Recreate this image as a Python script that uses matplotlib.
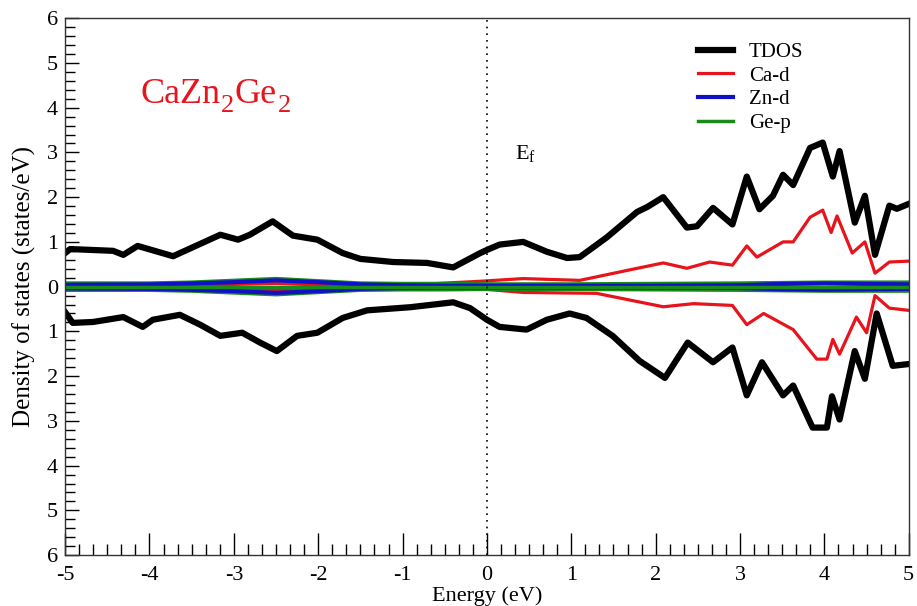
import matplotlib
matplotlib.use("Agg")
import matplotlib.pyplot as plt
from matplotlib.ticker import MultipleLocator, FuncFormatter, AutoMinorLocator

plt.rcParams['font.family'] = ['Liberation Serif', 'DejaVu Serif']
plt.rcParams['mathtext.fontset'] = 'custom'
plt.rcParams['mathtext.rm'] = 'Liberation Serif'
plt.rcParams['mathtext.it'] = 'Liberation Serif:italic'

# ---- data ----
tdos_up_e = [-5.0, -4.94, -4.43, -4.31, -4.14, -3.72, -3.16, -2.95, -2.81, -2.54, -2.30, -2.01,
             -1.71, -1.50, -1.11, -0.71, -0.40, -0.08, 0.0, 0.15, 0.43, 0.71, 0.95, 1.10, 1.42,
             1.78, 1.90, 2.09, 2.37, 2.49, 2.68, 2.91, 3.08, 3.23, 3.39, 3.51, 3.63, 3.83, 3.98,
             4.10, 4.18, 4.36, 4.48, 4.60, 4.77, 4.86, 5.0]
tdos_up = [0.75, 0.84, 0.80, 0.71, 0.91, 0.68, 1.16, 1.05, 1.16, 1.46, 1.14, 1.05,
           0.75, 0.62, 0.55, 0.53, 0.43, 0.75, 0.82, 0.94, 1.00, 0.78, 0.64, 0.66, 1.10,
           1.67, 1.78, 2.00, 1.32, 1.35, 1.76, 1.39, 2.46, 1.73, 2.03, 2.50, 2.27, 3.10, 3.22,
           2.46, 3.03, 1.43, 2.03, 0.71, 1.81, 1.74, 1.85]

tdos_dn_e = [-5.0, -4.91, -4.67, -4.31, -4.08, -3.96, -3.64, -3.40, -3.16, -2.90, -2.69, -2.49,
             -2.25, -2.01, -1.71, -1.42, -0.91, -0.40, -0.20, 0.0, 0.15, 0.47, 0.71, 0.98, 1.18,
             1.49, 1.81, 2.11, 2.38, 2.68, 2.91, 3.08, 3.26, 3.51, 3.63, 3.86, 4.03, 4.09, 4.18,
             4.36, 4.48, 4.62, 4.81, 5.0]
tdos_dn = [0.57, 0.81, 0.79, 0.68, 0.90, 0.74, 0.63, 0.85, 1.10, 1.03, 1.25, 1.44,
           1.10, 1.03, 0.70, 0.53, 0.46, 0.35, 0.48, 0.74, 0.90, 0.96, 0.74, 0.60, 0.70,
           1.10, 1.66, 2.04, 1.25, 1.69, 1.36, 2.43, 1.69, 2.43, 2.21, 3.15, 3.15, 2.45, 2.97,
           1.44, 2.06, 0.60, 1.77, 1.73]

cad_up_e = [-5.0, -4.0, -3.0, -2.5, -2.0, -1.0, -0.08, 0.43, 1.10, 1.68, 2.09, 2.37, 2.64,
            2.91, 3.08, 3.20, 3.51, 3.63, 3.83, 3.98, 4.08, 4.15, 4.33, 4.48, 4.60, 4.77, 5.0]
cad_up = [0.02, 0.03, 0.05, 0.07, 0.04, 0.03, 0.12, 0.18, 0.14, 0.37, 0.53, 0.41, 0.55,
          0.48, 0.91, 0.66, 1.00, 1.00, 1.55, 1.71, 1.21, 1.58, 0.75, 1.00, 0.30, 0.55, 0.57]

cad_dn_e = [-5.0, -4.0, -3.0, -2.5, -2.0, -1.0, -0.08, 0.43, 1.30, 2.09, 2.45, 2.91, 3.08,
            3.28, 3.63, 3.91, 4.03, 4.10, 4.18, 4.38, 4.50, 4.60, 4.77, 5.0]
cad_dn = [0.02, 0.03, 0.05, 0.07, 0.04, 0.03, 0.05, 0.13, 0.15, 0.45, 0.38, 0.42, 0.85,
          0.60, 0.96, 1.62, 1.62, 1.18, 1.51, 0.68, 1.03, 0.20, 0.48, 0.53]

pdos_e = [-5.0, -4.0, -3.5, -3.0, -2.5, -2.0, -1.5, -1.0, -0.5, 0.0, 1.0, 2.0, 3.0, 3.5, 4.0, 4.5, 5.0]
znd = [0.04, 0.05, 0.07, 0.10, 0.14, 0.10, 0.05, 0.03, 0.02, 0.02, 0.02, 0.02, 0.03, 0.06, 0.07, 0.06, 0.05]
gep = [0.08, 0.08, 0.10, 0.14, 0.18, 0.13, 0.08, 0.07, 0.07, 0.06, 0.06, 0.07, 0.08, 0.09, 0.10, 0.10, 0.10]

labels = ['TDOS', 'Ca-d', 'Zn-d', 'Ge-p']
colors = ['black', '#e8141c', '#1010c8', '#1a8a1a']

fig = plt.figure(figsize=(9.17, 6.06), dpi=100)
ax = fig.add_axes([0.071, 0.084, 0.920, 0.886])

ax.plot(tdos_up_e, tdos_up, color=colors[0], lw=4.5, label=labels[0], solid_joinstyle='round')
ax.plot(tdos_dn_e, [-v for v in tdos_dn], color=colors[0], lw=4.5, solid_joinstyle='round')
ax.plot(cad_up_e, cad_up, color=colors[1], lw=2.3, label=labels[1])
ax.plot(cad_dn_e, [-v for v in cad_dn], color=colors[1], lw=2.3)
ax.plot(pdos_e, gep, color=colors[3], lw=2.5, label=labels[3])
ax.plot(pdos_e, [-v for v in gep], color=colors[3], lw=2.5)
ax.plot(pdos_e, znd, color=colors[2], lw=3.0, label=labels[2])
ax.plot(pdos_e, [-v for v in znd], color=colors[2], lw=3.0)
ax.plot([-5, 5], [0, 0], color=colors[3], lw=2.5)

ax.axvline(0, color='black', lw=1.2, ls=(0, (1, 3)))

ax.set_xlim(-5, 5)
ax.set_ylim(-6, 6)
ax.xaxis.set_major_locator(MultipleLocator(1))
ax.xaxis.set_minor_locator(AutoMinorLocator(6))
ax.yaxis.set_major_locator(MultipleLocator(1))
ax.yaxis.set_minor_locator(AutoMinorLocator(5))
ax.yaxis.set_major_formatter(FuncFormatter(lambda v, p: f"{abs(int(round(v)))}"))
ax.xaxis.set_major_formatter(FuncFormatter(lambda v, p: f"{int(round(v))}"))
ax.tick_params(which='both', direction='in', top=False, right=False, labelsize=16, width=1)
ax.tick_params(axis='x', which='major', length=16, pad=8)
ax.tick_params(axis='x', which='minor', length=8)
ax.tick_params(axis='y', which='major', length=10, pad=5)
ax.tick_params(axis='y', which='minor', length=7)
for s in ax.spines.values():
    s.set_linewidth(1.0)
    s.set_color('#333333')

ax.set_xlabel('Energy (eV)', fontsize=16, labelpad=1)
ax.set_ylabel('Density of states (states/eV)', fontsize=18, labelpad=8)

# formula label with large, low subscripts
red = '#e8141c'
t1 = ax.text(-4.11, 4.1, 'CaZn', color=red, fontsize=26, va='baseline')
t2 = ax.annotate('2', xy=(1, 0), xycoords=t1, xytext=(0.5, -4), textcoords='offset points',
                 color=red, fontsize=19, va='bottom', ha='left')
t3 = ax.annotate('Ge', xy=(1, 0), xycoords=(t2, t1), xytext=(0.5, 0), textcoords='offset points',
                 color=red, fontsize=26, va='bottom', ha='left')
t4 = ax.annotate('2', xy=(1, 0), xycoords=t3, xytext=(0.5, -4), textcoords='offset points',
                 color=red, fontsize=19, va='bottom', ha='left')

ax.text(0.33, 2.85, 'E$_\\mathrm{f}$', fontsize=16, va='baseline')

h, l = ax.get_legend_handles_labels()
order = [l.index(x) for x in labels]
leg = ax.legend([h[i] for i in order], [l[i] for i in order], loc='upper left',
                bbox_to_anchor=(0.728, 0.99), frameon=False, fontsize=15,
                handlelength=1.7, labelspacing=0.2, handletextpad=0.75)

fig.savefig('out.png', dpi=100)
